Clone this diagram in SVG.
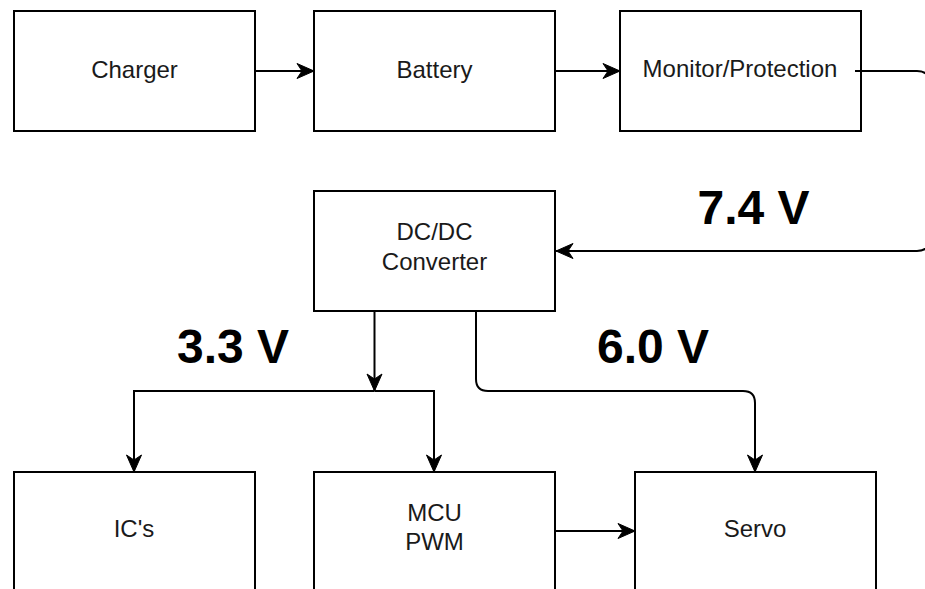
<svg xmlns="http://www.w3.org/2000/svg" width="925" height="589" viewBox="0 0 925 589">
<defs>
<marker id="arr" markerUnits="userSpaceOnUse" markerWidth="20" markerHeight="20" viewBox="-18 -9 20 18" refX="0" refY="0" orient="auto">
<path d="M0,0 L-17,-7.5 L-12,0 L-17,7.5 Z" fill="#000" stroke="#000" stroke-width="1" stroke-linejoin="miter"/>
</marker>
</defs>
<style>
.box{fill:#fff;stroke:#000;stroke-width:2}
.lbl{font-family:"Liberation Sans",Arial,sans-serif;font-size:24px;fill:#1a1a1a;text-anchor:middle}
.volt{font-family:"Liberation Sans",Arial,sans-serif;font-size:48px;font-weight:bold;fill:#000;text-anchor:middle}
.edge{fill:none;stroke:#000;stroke-width:2}
</style>
<rect width="925" height="589" fill="#fff"/>
<g id="charger"><rect class="box" x="14" y="11" width="241" height="120"/><text class="lbl" x="134.5" y="78">Charger</text></g>
<g id="battery"><rect class="box" x="314" y="11" width="241" height="120"/><text class="lbl" x="434.5" y="78">Battery</text></g>
<g id="monitor"><rect class="box" x="620" y="11" width="241" height="120"/><text class="lbl" x="740" y="77">Monitor/Protection</text></g>
<g id="dcdc"><rect class="box" x="314" y="191" width="241" height="120"/><text class="lbl" x="434.5" y="240">DC/DC</text><text class="lbl" x="434.5" y="270">Converter</text></g>
<g id="ics"><rect class="box" x="14" y="472" width="241" height="130"/><text class="lbl" x="134" y="537">IC's</text></g>
<g id="mcu"><rect class="box" x="314" y="472" width="241" height="130"/><text class="lbl" x="434.5" y="521">MCU</text><text class="lbl" x="434.5" y="550">PWM</text></g>
<g id="servo"><rect class="box" x="635" y="472" width="241" height="130"/><text class="lbl" x="755" y="537">Servo</text></g>
<g id="connectors">
<path class="edge" d="M255,71 H314" marker-end="url(#arr)"/>
<path class="edge" d="M555,71 H620" marker-end="url(#arr)"/>
<path class="edge" d="M855,71 H917 Q930,71 930,84 V238 Q930,251 917,251 H556" marker-end="url(#arr)"/>
<path class="edge" d="M374.5,311 V391" marker-end="url(#arr)"/>
<path class="edge" d="M374.5,391 H134 V472" marker-end="url(#arr)"/>
<path class="edge" d="M374.5,391 H434 V472" marker-end="url(#arr)"/>
<path class="edge" d="M476,311 V379 Q476,391 488,391 H743 Q755,391 755,403 V472" marker-end="url(#arr)"/>
<path class="edge" d="M555,531 H635" marker-end="url(#arr)"/>
</g>
<g id="labels">
<text class="volt" x="753.5" y="224">7.4 V</text>
<text class="volt" x="233" y="363">3.3 V</text>
<text class="volt" x="653" y="363">6.0 V</text>
</g>
</svg>
